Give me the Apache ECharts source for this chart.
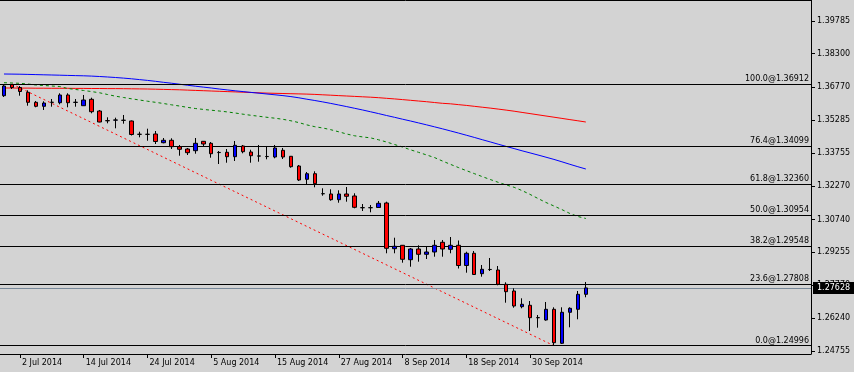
<!DOCTYPE html>
<html><head><meta charset="utf-8">
<script src="https://cdn.jsdelivr.net/npm/echarts@6/dist/echarts.min.js"></script>
<style>html,body{margin:0;padding:0;background:#d3d3d3;}#c{width:854px;height:372px;}</style>
</head><body><div id="c"></div>
<script>
const dates = ['30 Jun 2014','1 Jul 2014','2 Jul 2014','3 Jul 2014','4 Jul 2014','7 Jul 2014','8 Jul 2014','9 Jul 2014','10 Jul 2014','11 Jul 2014',
'14 Jul 2014','15 Jul 2014','16 Jul 2014','17 Jul 2014','18 Jul 2014','21 Jul 2014','22 Jul 2014','23 Jul 2014','24 Jul 2014','25 Jul 2014',
'28 Jul 2014','29 Jul 2014','30 Jul 2014','31 Jul 2014','1 Aug 2014','4 Aug 2014','5 Aug 2014','6 Aug 2014','7 Aug 2014','8 Aug 2014',
'11 Aug 2014','12 Aug 2014','13 Aug 2014','14 Aug 2014','15 Aug 2014','18 Aug 2014','19 Aug 2014','20 Aug 2014','21 Aug 2014','22 Aug 2014',
'25 Aug 2014','26 Aug 2014','27 Aug 2014','28 Aug 2014','29 Aug 2014','1 Sep 2014','2 Sep 2014','3 Sep 2014','4 Sep 2014','5 Sep 2014',
'8 Sep 2014','9 Sep 2014','10 Sep 2014','11 Sep 2014','12 Sep 2014','15 Sep 2014','16 Sep 2014','17 Sep 2014','18 Sep 2014','19 Sep 2014',
'22 Sep 2014','23 Sep 2014','24 Sep 2014','25 Sep 2014','26 Sep 2014','29 Sep 2014','30 Sep 2014','1 Oct 2014','2 Oct 2014','3 Oct 2014',
'6 Oct 2014','7 Oct 2014','8 Oct 2014','9 Oct 2014'];

const open = [1.36383,1.36893,1.36756,1.36538,1.36082,1.35900,1.36085,1.36064,1.36415,1.36078,
1.35927,1.36219,1.35686,1.35248,1.35270,1.35266,1.35231,1.34628,1.34622,1.34639,
1.34242,1.34352,1.34060,1.33955,1.33878,1.34306,1.34215,1.33800,1.33805,1.33605,
1.34092,1.33819,1.33640,1.33610,1.33591,1.33896,1.33623,1.33181,1.32575,1.32830,
1.31922,1.31906,1.31646,1.31906,1.31815,1.31285,1.31280,1.31291,1.31496,1.29414,
1.29569,1.28913,1.29401,1.29159,1.29264,1.29706,1.29387,1.29569,1.28649,1.29205,
1.28276,1.28470,1.28444,1.27793,1.27488,1.26773,1.26837,1.26275,1.26167,1.26654,
1.25106,1.26518,1.26654,1.27337];
const close = [1.36825,1.36756,1.36574,1.36082,1.35900,1.36050,1.36080,1.36415,1.36064,1.36085,
1.36187,1.35654,1.35185,1.35240,1.35278,1.35260,1.34616,1.34622,1.34626,1.34297,
1.34352,1.34060,1.33942,1.33787,1.34215,1.34183,1.33741,1.33792,1.33605,1.34124,
1.33832,1.33650,1.33632,1.33616,1.34001,1.33591,1.33149,1.32543,1.32830,1.32375,
1.31916,1.31646,1.31906,1.31801,1.31300,1.31280,1.31284,1.31482,1.29433,1.29524,
1.28932,1.29401,1.29159,1.29264,1.29569,1.29401,1.29569,1.28649,1.29205,1.28239,
1.28476,1.28464,1.27793,1.27456,1.26805,1.26882,1.26272,1.26270,1.26654,1.25133,
1.26518,1.26700,1.27337,1.27628];
const low = [1.36324,1.36688,1.36383,1.35927,1.35855,1.35732,1.35882,1.35991,1.35855,1.35882,
1.35914,1.35581,1.35171,1.35126,1.34898,1.35108,1.34570,1.34488,1.34333,1.34183,
1.34215,1.33955,1.33650,1.33682,1.33741,1.34060,1.33559,1.33272,1.33331,1.33409,
1.33759,1.33331,1.33377,1.33486,1.33532,1.33500,1.33104,1.32498,1.32361,1.32211,
1.31828,1.31601,1.31509,1.31555,1.31254,1.31131,1.31072,1.31282,1.29205,1.29205,
1.28777,1.28594,1.28822,1.28945,1.29050,1.29050,1.29205,1.28512,1.28321,1.28230,
1.28139,1.28399,1.27747,1.26955,1.26727,1.26700,1.25666,1.25816,1.26135,1.24996,
1.25074,1.25834,1.26199,1.27201];
const high = [1.36870,1.36912,1.36825,1.36629,1.36142,1.36128,1.36233,1.36492,1.36492,1.36233,
1.36415,1.36292,1.35732,1.35399,1.35381,1.35504,1.35253,1.34743,1.34880,1.34775,
1.34456,1.34443,1.34138,1.34001,1.34456,1.34320,1.34274,1.33864,1.33955,1.34320,
1.34138,1.33923,1.34138,1.34092,1.34138,1.34001,1.33636,1.33227,1.32908,1.32940,
1.32165,1.32120,1.32074,1.32225,1.31938,1.31450,1.31405,1.31587,1.31555,1.29915,
1.29583,1.29446,1.29569,1.29492,1.29811,1.29811,1.29947,1.29788,1.29278,1.29310,
1.28672,1.28991,1.28626,1.27884,1.27611,1.27155,1.27032,1.26395,1.26987,1.26745,
1.26745,1.26745,1.27488,1.27898];

const maBlue = [1.37371,1.37367,1.37362,1.37353,1.37344,1.37335,1.37326,1.37317,1.37307,1.37298,
1.37289,1.37276,1.37257,1.37235,1.37212,1.37184,1.37153,1.37116,1.37080,1.37039,
1.36993,1.36952,1.36907,1.36861,1.36816,1.36775,1.36734,1.36688,1.36647,1.36606,
1.36570,1.36533,1.36497,1.36460,1.36424,1.36387,1.36342,1.36287,1.36223,1.36164,
1.36100,1.36032,1.35959,1.35886,1.35809,1.35732,1.35650,1.35568,1.35481,1.35399,
1.35313,1.35231,1.35144,1.35057,1.34966,1.34875,1.34780,1.34684,1.34584,1.34484,
1.34379,1.34279,1.34174,1.34074,1.33974,1.33873,1.33778,1.33682,1.33582,1.33482,
1.33372,1.33258,1.33149,1.33044];
const maRed = [1.36734,1.36734,1.36729,1.36729,1.36724,1.36724,1.36720,1.36720,1.36720,1.36715,
1.36715,1.36711,1.36711,1.36706,1.36706,1.36702,1.36697,1.36693,1.36688,1.36679,
1.36670,1.36661,1.36652,1.36638,1.36624,1.36611,1.36597,1.36583,1.36570,1.36556,
1.36542,1.36529,1.36515,1.36501,1.36492,1.36483,1.36474,1.36465,1.36456,1.36442,
1.36424,1.36406,1.36387,1.36369,1.36351,1.36333,1.36315,1.36292,1.36264,1.36237,
1.36205,1.36173,1.36141,1.36110,1.36073,1.36037,1.36014,1.35977,1.35941,1.35900,
1.35859,1.35818,1.35773,1.35727,1.35677,1.35622,1.35568,1.35513,1.35458,1.35404,
1.35349,1.35294,1.35240,1.35185];
const maGreen = [1.36975,1.36961,1.36948,1.36916,1.36870,1.36847,1.36825,1.36802,1.36711,1.36665,
1.36620,1.36570,1.36515,1.36437,1.36360,1.36301,1.36242,1.36187,1.36132,1.36082,
1.36028,1.35968,1.35914,1.35854,1.35800,1.35759,1.35722,1.35686,1.35645,1.35595,
1.35540,1.35490,1.35445,1.35399,1.35358,1.35308,1.35240,1.35158,1.35053,1.34971,
1.34912,1.34834,1.34739,1.34638,1.34556,1.34506,1.34461,1.34374,1.34274,1.34160,
1.34046,1.33919,1.33805,1.33686,1.33568,1.33409,1.33258,1.33113,1.32971,1.32835,
1.32698,1.32566,1.32439,1.32320,1.32211,1.32061,1.31887,1.31701,1.31519,1.31359,
1.31195,1.31018,1.30881,1.30790];

const tickLabels = ['2 Jul 2014','14 Jul 2014','24 Jul 2014','5 Aug 2014','15 Aug 2014','27 Aug 2014','8 Sep 2014','18 Sep 2014','30 Sep 2014'];
const priceTicks = [1.24755,1.26240,1.27770,1.29255,1.30740,1.32270,1.33755,1.35285,1.36770,1.38300,1.39785];
const fibPct = ['100.0','76.4','61.8','50.0','38.2','23.6','0.0'];
const fibPrice = [1.36912,1.34099,1.32360,1.30954,1.29548,1.27808,1.24996];
const fibStart = {date:'1 Jul 2014', price:1.36912};
const fibEnd = {date:'3 Oct 2014', price:1.24996};
const lastPrice = 1.27628;
const priceMin = 1.24618, priceMax = 1.40742;
const emptySlots = 28;

const FONT = 'DejaVu Sans';
const FS = 8;
const cats = dates.concat(Array(emptySlots).fill(''));
const candles = dates.map((d,i)=>[open[i],close[i],low[i],high[i]]);
const showTick = (i,v)=>tickLabels.indexOf(v) >= 0;

const chart = echarts.init(document.getElementById('c'), null, {renderer:'canvas'});
const frameAxisX = (pos)=>({type:'value', gridIndex:1, min:0, max:1, position:pos,
  axisLine:{show:true, onZero:false, lineStyle:{color:'#000', width:1}}, axisTick:{show:false}, axisLabel:{show:false}, splitLine:{show:false}});

const fibLines = fibPrice.map((p,k)=>({yAxis:p, label:{formatter: fibPct[k] + '@' + p.toFixed(5)}}));
fibLines.push({yAxis:lastPrice, lineStyle:{color:'#778899', type:'solid', width:1},
  label:{position:'end', distance:2, formatter: lastPrice.toFixed(5), color:'#fff', backgroundColor:'#000',
    padding:[2,4,1,4], lineHeight:9, fontFamily:FONT, fontSize:FS}});

chart.setOption({
  backgroundColor:'#d3d3d3',
  animation:false,
  grid:[
    {left:-3, right:41, top:0, bottom:18},
    {left:0, right:43, top:0, bottom:18}
  ],
  xAxis:[
    {type:'category', gridIndex:0, data:cats, boundaryGap:true,
     axisLine:{show:false, onZero:false},
     axisTick:{show:true, alignWithLabel:true, interval:showTick, length:4, lineStyle:{color:'#000'}},
     axisLabel:{interval:showTick, align:'left', padding:[0,0,0,2], margin:5, color:'#000', fontFamily:FONT, fontSize:FS},
     splitLine:{show:false}},
    frameAxisX('bottom'),
    frameAxisX('top')
  ],
  yAxis:[
    {type:'value', gridIndex:0, min:priceMin, max:priceMax, show:false, axisLine:{onZero:false}, splitLine:{show:false}},
    {type:'value', gridIndex:1, min:priceMin, max:priceMax, position:'right',
     axisLine:{show:true, onZero:false, lineStyle:{color:'#000'}},
     axisTick:{show:true, customValues:priceTicks, length:4, lineStyle:{color:'#000'}},
     axisLabel:{customValues:priceTicks, formatter:v=>v.toFixed(5), margin:6, color:'#000', fontFamily:FONT, fontSize:FS},
     splitLine:{show:false}}
  ],
  series:[
    {type:'line', xAxisIndex:1, yAxisIndex:1, data:[], z:1,
     markLine:{silent:true, symbol:['none','none'], animation:false, precision:5,
       lineStyle:{color:'#000', type:'solid', width:1},
       label:{position:'insideEndTop', distance:[2,1], color:'#000', fontFamily:FONT, fontSize:FS},
       data:fibLines}},
    {type:'line', name:'MA red', xAxisIndex:0, yAxisIndex:0, data:maRed, symbol:'none', z:3,
     lineStyle:{color:'#ff0000', width:1}},
    {type:'line', name:'MA blue', xAxisIndex:0, yAxisIndex:0, data:maBlue, symbol:'none', z:3,
     lineStyle:{color:'#0000ff', width:1}},
    {type:'line', name:'MA green', xAxisIndex:0, yAxisIndex:0, data:maGreen, symbol:'none', z:3,
     lineStyle:{color:'#008000', width:1, type:[3,3]}},
    {type:'line', name:'Fibo base', xAxisIndex:0, yAxisIndex:0, symbol:'none', z:3,
     data:[[dates.indexOf(fibStart.date), fibStart.price],[dates.indexOf(fibEnd.date), fibEnd.price]],
     lineStyle:{color:'#ff0000', width:1, type:[2,3]}},
    {type:'candlestick', xAxisIndex:0, yAxisIndex:0, data:candles, barWidth:4, z:5,
     itemStyle:{color:'#0000ff', color0:'#ff0000', borderColor:'#000', borderColor0:'#000', borderColorDoji:'#000', borderWidth:1}}
  ]
});
</script>
</body></html>
